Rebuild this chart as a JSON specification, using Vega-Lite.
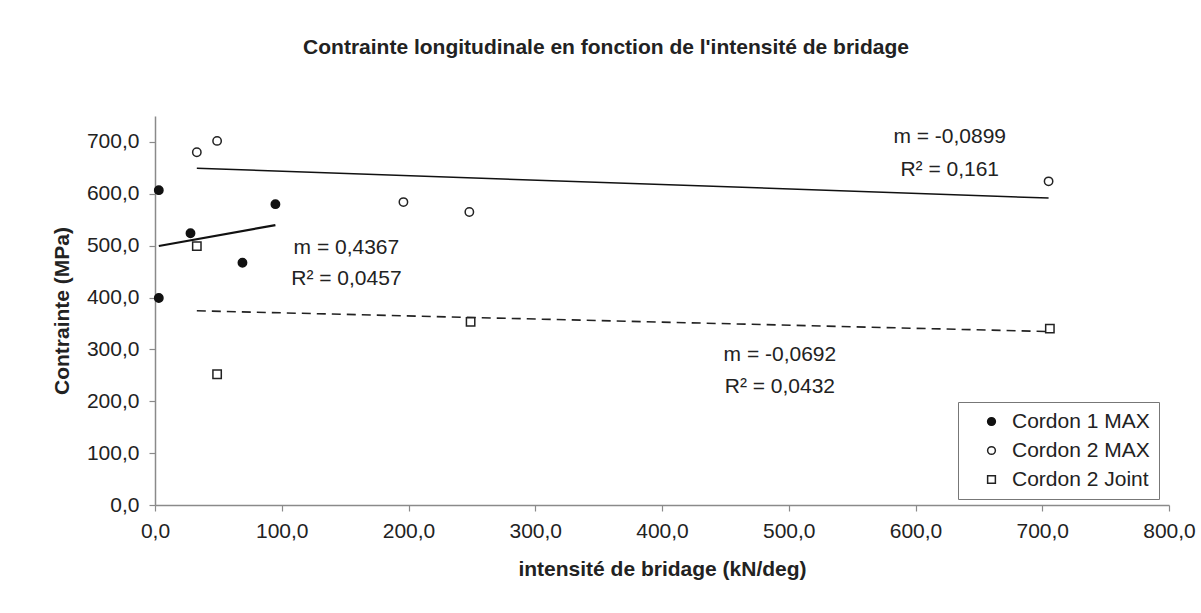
{
  "$schema": "https://vega.github.io/schema/vega-lite/v6.json",
  "width": 1014,
  "height": 389,
  "autosize": {"type": "none"},
  "padding": {"left": 155, "top": 116, "right": 32, "bottom": 108},
  "background": "white",
  "config": {
    "view": {"stroke": null},
    "font": "Liberation Sans",
    "axis": {
      "grid": false,
      "domainColor": "#8a8a8a",
      "domainWidth": 1.5,
      "tickColor": "#8a8a8a",
      "tickWidth": 1.2,
      "tickSize": 6,
      "labelFlush": false,
      "labelFont": "Liberation Sans",
      "labelFontSize": 21,
      "labelColor": "#222",
      "titleFont": "Liberation Sans",
      "titleFontSize": 21,
      "titleFontWeight": "bold",
      "titleColor": "#222"
    }
  },
  "title": {
    "text": "Contrainte longitudinale en fonction de l'intensité de bridage",
    "font": "Liberation Sans",
    "fontSize": 21,
    "fontWeight": "bold",
    "color": "#222",
    "anchor": "middle",
    "dx": -56,
    "offset": 58
  },
  "datasets": {
    "pts": [
      {"x": 3, "y": 607, "serie": "Cordon 1 MAX"},
      {"x": 28, "y": 524, "serie": "Cordon 1 MAX"},
      {"x": 95, "y": 580, "serie": "Cordon 1 MAX"},
      {"x": 69, "y": 467, "serie": "Cordon 1 MAX"},
      {"x": 3, "y": 399, "serie": "Cordon 1 MAX"},
      {"x": 33, "y": 680, "serie": "Cordon 2 MAX"},
      {"x": 49, "y": 702, "serie": "Cordon 2 MAX"},
      {"x": 196, "y": 584, "serie": "Cordon 2 MAX"},
      {"x": 248, "y": 565, "serie": "Cordon 2 MAX"},
      {"x": 705, "y": 624, "serie": "Cordon 2 MAX"},
      {"x": 33, "y": 499, "serie": "Cordon 2 Joint"},
      {"x": 49, "y": 252, "serie": "Cordon 2 Joint"},
      {"x": 249, "y": 353, "serie": "Cordon 2 Joint"},
      {"x": 706, "y": 340, "serie": "Cordon 2 Joint"}
    ],
    "notes": [
      {"x": 151, "y": 496, "label": "m = 0,4367"},
      {"x": 151, "y": 435, "label": "R² = 0,0457"},
      {"x": 627, "y": 710, "label": "m = -0,0899"},
      {"x": 627, "y": 645, "label": "R² = 0,161"},
      {"x": 493, "y": 289, "label": "m = -0,0692"},
      {"x": 493, "y": 228, "label": "R² = 0,0432"}
    ]
  },
  "layer": [
    {
      "data": {"name": "pts"},
      "transform": [
        {"filter": "datum.serie === 'Cordon 1 MAX'"},
        {"regression": "y", "on": "x", "method": "linear"}
      ],
      "mark": {"type": "line", "color": "#111", "strokeWidth": 2.2},
      "encoding": {
        "x": {"field": "x", "type": "quantitative"},
        "y": {"field": "y", "type": "quantitative"}
      }
    },
    {
      "data": {"name": "pts"},
      "transform": [
        {"filter": "datum.serie === 'Cordon 2 MAX'"},
        {"regression": "y", "on": "x", "method": "linear"}
      ],
      "mark": {"type": "line", "color": "#111", "strokeWidth": 1.5},
      "encoding": {
        "x": {"field": "x", "type": "quantitative"},
        "y": {"field": "y", "type": "quantitative"}
      }
    },
    {
      "data": {"name": "pts"},
      "transform": [
        {"filter": "datum.serie === 'Cordon 2 Joint'"},
        {"regression": "y", "on": "x", "method": "linear"}
      ],
      "mark": {"type": "line", "color": "#222", "strokeWidth": 1.6, "strokeDash": [9, 6]},
      "encoding": {
        "x": {"field": "x", "type": "quantitative"},
        "y": {"field": "y", "type": "quantitative"}
      }
    },
    {
      "data": {"name": "pts"},
      "mark": {"type": "point", "strokeWidth": 1.5, "opacity": 1},
      "encoding": {
        "x": {
          "field": "x",
          "type": "quantitative",
          "scale": {"domain": [0, 800], "nice": false},
          "axis": {
            "title": "intensité de bridage (kN/deg)",
            "values": [0, 100, 200, 300, 400, 500, 600, 700, 800],
            "labelExpr": "replace(format(datum.value, '.1f'), '.', ',')",
            "labelPadding": 9,
            "titlePadding": 17
          }
        },
        "y": {
          "field": "y",
          "type": "quantitative",
          "scale": {"domain": [0, 750], "nice": false},
          "axis": {
            "title": "Contrainte (MPa)",
            "values": [0, 100, 200, 300, 400, 500, 600, 700],
            "labelExpr": "replace(format(datum.value, '.1f'), '.', ',')",
            "labelPadding": 10,
            "titlePadding": 14
          }
        },
        "shape": {
          "field": "serie",
          "type": "nominal",
          "scale": {"domain": ["Cordon 1 MAX", "Cordon 2 MAX", "Cordon 2 Joint"], "range": ["circle", "circle", "square"]},
          "legend": {
            "title": null,
            "orient": "none",
            "legendX": 803,
            "legendY": 286,
            "strokeColor": "#777",
            "fillColor": "white",
            "padding": 9,
            "rowPadding": 7,
            "symbolOffset": 14,
            "labelOffset": 10,
            "labelFontSize": 21,
            "labelColor": "#222",
            "labelFont": "Liberation Sans",
            "symbolStrokeWidth": 1.5,
            "symbolSize": 60,
            "labelLimit": 300
          }
        },
        "fill": {
          "field": "serie",
          "type": "nominal",
          "scale": {"domain": ["Cordon 1 MAX", "Cordon 2 MAX", "Cordon 2 Joint"], "range": ["#111", "white", "white"]}
        },
        "stroke": {
          "field": "serie",
          "type": "nominal",
          "scale": {"domain": ["Cordon 1 MAX", "Cordon 2 MAX", "Cordon 2 Joint"], "range": ["#111", "#222", "#222"]}
        },
        "size": {"value": 70}
      }
    },
    {
      "data": {"name": "notes"},
      "mark": {"type": "text", "fontSize": 21, "font": "Liberation Sans", "color": "#222", "align": "center", "baseline": "middle"},
      "encoding": {
        "x": {"field": "x", "type": "quantitative"},
        "y": {"field": "y", "type": "quantitative"},
        "text": {"field": "label"}
      }
    }
  ]
}
